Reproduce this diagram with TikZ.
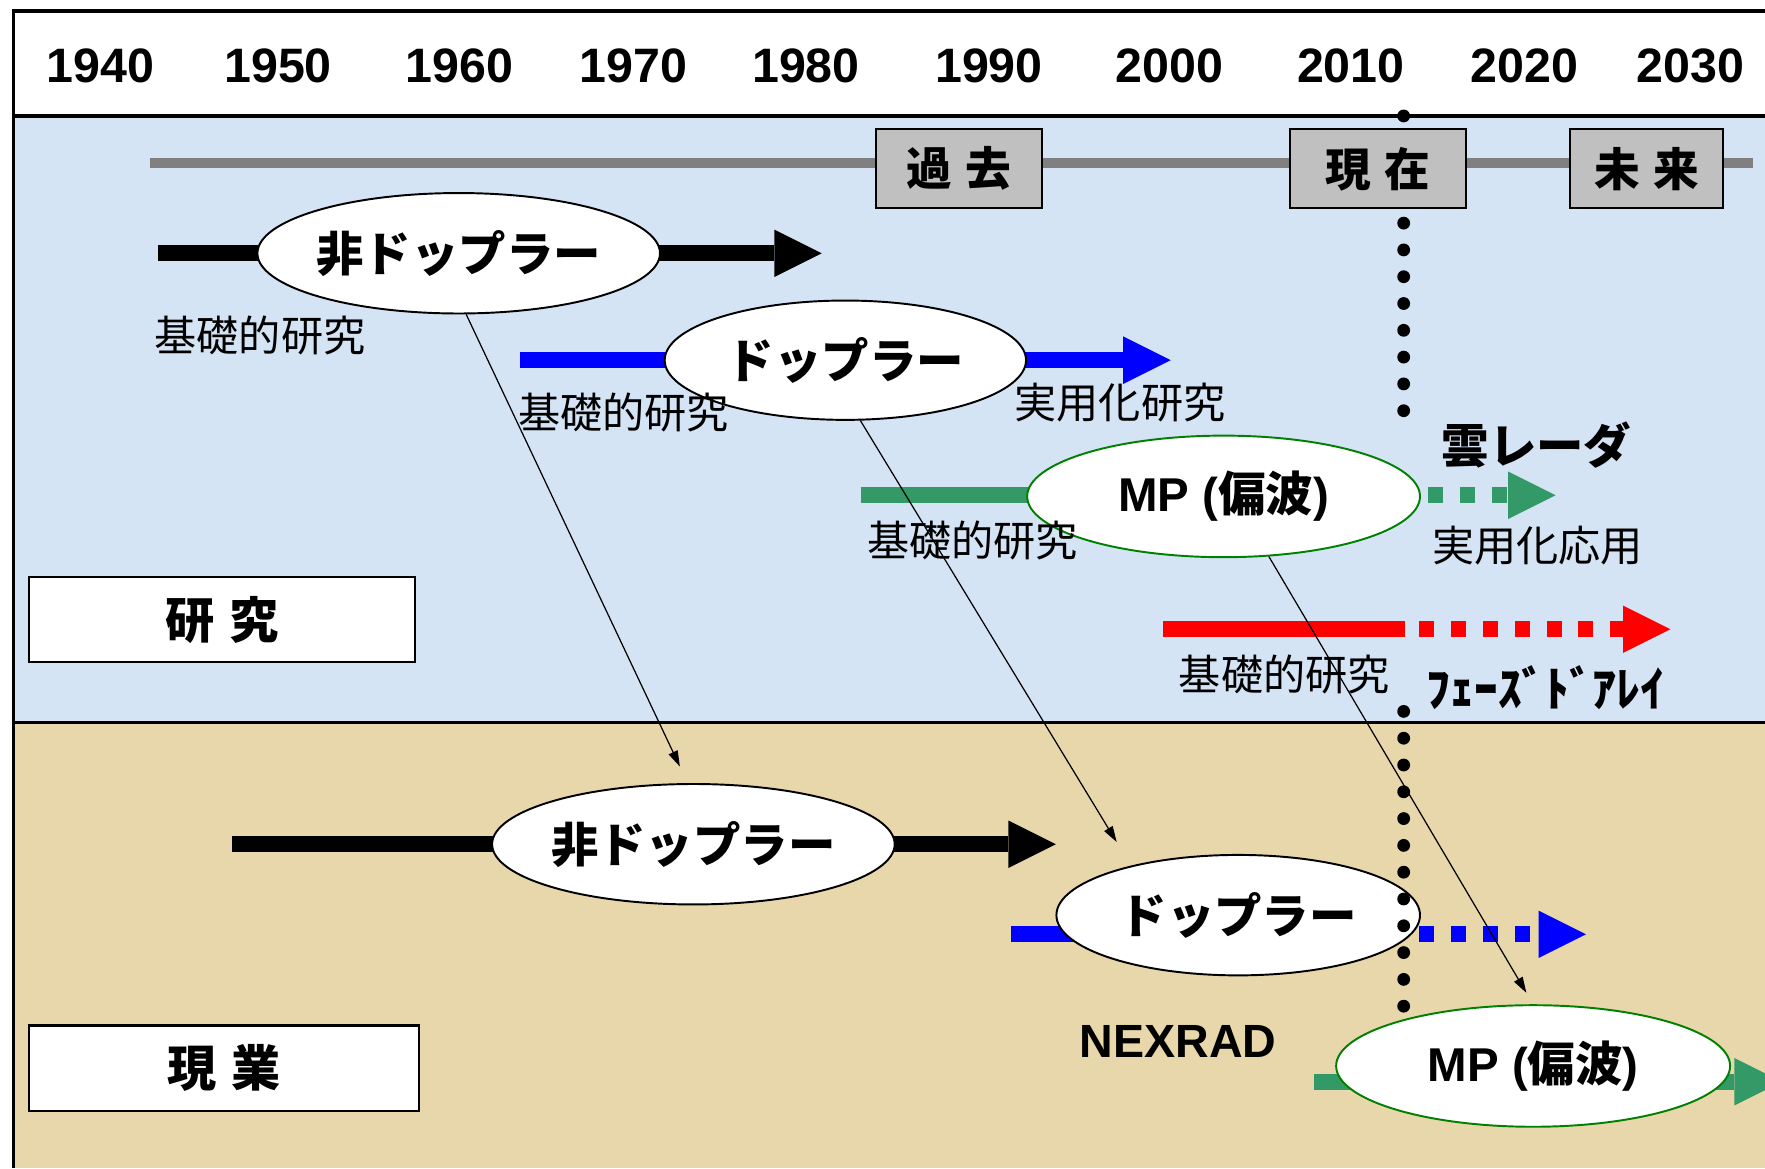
\documentclass[tikz,border=0pt]{standalone}
\usepackage{fontspec}
\setmainfont{Liberation Sans}
\newfontfamily\jp{Noto Sans CJK JP}
\usetikzlibrary{shapes.geometric,arrows.meta}
\definecolor{bgblue}{RGB}{212,228,245}
\definecolor{bgtan}{RGB}{233,215,172}
\definecolor{tlgray}{RGB}{128,128,128}
\definecolor{boxgray}{RGB}{192,192,192}
\definecolor{mpgreen}{RGB}{51,153,102}
\definecolor{ellgreen}{RGB}{0,128,0}
\def\pxx{0.6406pt}
\begin{document}
\begin{tikzpicture}[x=0.6406pt,y=-0.6406pt,
  yearlab/.style={inner sep=0pt, font=\bfseries\fontsize{27.5}{30}\selectfont},
  tbox/.style={draw=black, line width=1.2pt, fill=boxgray, inner sep=0pt, font=\jp\bfseries\fontsize{26}{30}\selectfont},
  sidebox/.style={draw=black, line width=1.2pt, fill=white, inner sep=0pt, minimum height={76*\pxx}, font=\jp\bfseries\fontsize{28}{30}\selectfont},
  ell/.style={ellipse, draw=black, line width=1.1pt, fill=white, inner sep=0pt, font=\jp\bfseries\fontsize{27}{30}\selectfont},
  mpell/.style={ell, draw=ellgreen, font=\bfseries\fontsize{27}{30}\selectfont},
  lab/.style={inner sep=0pt, font=\jp\fontsize{24}{26}\selectfont},
  blab/.style={inner sep=0pt, font=\jp\bfseries\fontsize{27}{30}\selectfont},
  thickbar/.style={line width=9.3pt},
  bighead/.style={-{Triangle[length=27pt,width=27pt,line width=0pt]}},
  dotbar/.style={dash pattern=on 8.5pt off 9.6pt},
  thinarrow/.style={line width=0.7pt, -{Triangle[length=9pt,width=5.5pt]}},
  dotline/.style={line width=7.3pt, line cap=round, dash pattern=on 0pt off 15.25pt},
  frameline/.style={line width=2pt}
]
\useasboundingbox (0,0) rectangle (1568,1038);
\clip (0,0) rectangle (1568,1038);
% backgrounds
\fill[white] (0,0) rectangle (1568,1038);
\fill[bgblue] (12,103) rectangle (1568,642);
\fill[bgtan] (12,642) rectangle (1568,1038);
\coordinate (f0) at (1568,10);
\coordinate (f1) at (12,10);
\coordinate (f2) at (12,1038);
\coordinate (h0) at (12,103);
\coordinate (h1) at (1568,103);
\coordinate (m0) at (12,642);
\coordinate (m1) at (1568,642);
\draw[frameline] (f0) -- (f1) -- (f2);
\draw[frameline] (h0) -- (h1);
\draw[frameline] (m0) -- (m1);
% years
\node[yearlab] (y1940) at (89,58.5) {1940};
\node[yearlab] (y1950) at (247,58.5) {1950};
\node[yearlab] (y1960) at (408,58.5) {1960};
\node[yearlab] (y1970) at (563,58.5) {1970};
\node[yearlab] (y1980) at (716,58.5) {1980};
\node[yearlab] (y1990) at (878.5,58.5) {1990};
\node[yearlab] (y2000) at (1039,58.5) {2000};
\node[yearlab] (y2010) at (1200,58.5) {2010};
\node[yearlab] (y2020) at (1354.5,58.5) {2020};
\node[yearlab] (y2030) at (1502,58.5) {2030};
% time line
\coordinate (tl0) at (133,145);
\coordinate (tl1) at (1557,145);
\draw[tlgray, line width=5.7pt] (tl0) -- (tl1);
\coordinate (now0) at (1247,103);
\coordinate (now1) at (1247,368);
\draw[dotline] (now0) -- (now1);
\node[tbox, minimum width={148*\pxx}, minimum height={70*\pxx}] (kako) at (852,150) {過\hspace{0.3em}去};
\node[tbox, minimum width={156*\pxx}, minimum height={70*\pxx}] (genzai) at (1224,150) {現\hspace{0.3em}在};
\node[tbox, minimum width={136*\pxx}, minimum height={70*\pxx}] (mirai) at (1463,150) {未\hspace{0.3em}来};
% bars
\coordinate (b1s) at (140,225);  \coordinate (b1e) at (730,225);
\draw[thickbar, bighead] (b1s) -- (b1e);
\coordinate (b2s) at (462,320);  \coordinate (b2e) at (1040,320);
\draw[thickbar, blue, bighead] (b2s) -- (b2e);
\coordinate (g1s) at (765,440);  \coordinate (g1m) at (1087,440);
\coordinate (g1d) at (1269,440); \coordinate (g1e) at (1382,440);
\draw[thickbar, mpgreen] (g1s) -- (g1m);
\draw[thickbar, mpgreen, dotbar, bighead] (g1d) -- (g1e);
\coordinate (r1s) at (1033,559); \coordinate (r1m) at (1248,559);
\coordinate (r1d) at (1261,559); \coordinate (r1e) at (1484,559);
\draw[thickbar, red] (r1s) -- (r1m);
\draw[thickbar, red, dotbar, bighead] (r1d) -- (r1e);
\coordinate (b3s) at (206,750);  \coordinate (b3e) at (938,750);
\draw[thickbar, bighead] (b3s) -- (b3e);
\coordinate (b4s) at (898,830);  \coordinate (b4m) at (1100,830);
\coordinate (b4d) at (1261,830); \coordinate (b4e) at (1409,830);
\draw[thickbar, blue] (b4s) -- (b4m);
\draw[thickbar, blue, dotbar, bighead] (b4d) -- (b4e);
\coordinate (g2s) at (1167,961);  \coordinate (g2e) at (1583,961);
\draw[thickbar, mpgreen, bighead] (g2s) -- (g2e);
% ellipses
\node[ell, minimum width={348*\pxx}, minimum height={107*\pxx}] (nd1) at (407.5,225) {非ドップラー};
\node[ell, minimum width={321*\pxx}, minimum height={106*\pxx}] (dp1) at (751,320) {ドップラー};
\node[mpell, minimum width={349*\pxx}, minimum height={108*\pxx}] (mp1) at (1087,441) {MP ({\jp 偏波})};
\node[ell, minimum width={348*\pxx}, minimum height={107*\pxx}] (nd2) at (616,750) {非ドップラー};
\node[ell, minimum width={323*\pxx}, minimum height={107*\pxx}] (dp2) at (1100,813) {ドップラー};
\node[mpell, minimum width={350*\pxx}, minimum height={108*\pxx}] (mp2) at (1362,947) {MP ({\jp 偏波})};
% labels
\node[lab] (k1) at (231,298) {基礎的研究};
\node[lab] (k2) at (554,366.5) {基礎的研究};
\node[lab] (k3) at (864,480) {基礎的研究};
\node[lab] (jy1) at (995,358) {実用化研究};
\node[blab] (kumo) at (1365,395) {雲レーダ};
\node[lab] (jy2) at (1366,485) {実用化応用};
\node[lab] (k4) at (1141,599.5) {基礎的研究};
\node[blab] (phased) at (1373,611) {ﾌｪｰｽﾞﾄﾞｱﾚｲ};
\node[inner sep=0pt, font=\bfseries\fontsize{26.5}{30}\selectfont] (nexrad) at (1046.5,925) {NEXRAD};
% side boxes
\node[sidebox, minimum width={343*\pxx}] (kenkyu) at (197.5,550.5) {研\hspace{0.3em}究};
\node[sidebox, minimum width={347*\pxx}] (gengyo) at (199,949) {現\hspace{0.3em}業};
% thin arrows
\coordinate (a1e) at (604,681);
\coordinate (a2e) at (992,748);
\coordinate (a3e) at (1356,882);
\draw[thinarrow] (nd1.-83) -- (a1e);
\draw[thinarrow] (dp1.-76) -- (a2e);
\draw[thinarrow] (mp1.-53) -- (a3e);
% lower dotted line
\coordinate (now2) at (1247,632);
\coordinate (now3) at (1247,896);
\draw[dotline] (now2) -- (now3);
\end{tikzpicture}
\end{document}
